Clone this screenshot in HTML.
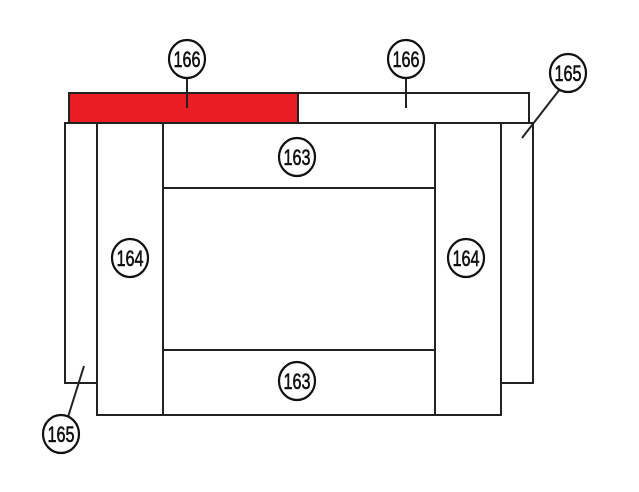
<!DOCTYPE html><html><head><style>body{margin:0;background:#fff}</style></head><body>
<svg width="639" height="487" xmlns="http://www.w3.org/2000/svg" font-family="Liberation Sans Narrow, Liberation Sans, sans-serif">
<g stroke="#222" stroke-width="2" fill="none">
<rect x="69" y="93" width="229" height="30" fill="#ec1c24"/>
<rect x="298" y="93" width="231" height="30" fill="#fff"/>
<rect x="65" y="123" width="32" height="260" fill="#fff"/>
<rect x="501" y="123" width="32" height="260" fill="#fff"/>
<rect x="97" y="123" width="66" height="292" fill="#fff"/>
<rect x="435" y="123" width="66" height="292" fill="#fff"/>
<rect x="163" y="123" width="272" height="292" fill="#fff"/>
<line x1="163" y1="188" x2="435" y2="188"/>
<line x1="163" y1="350" x2="435" y2="350"/>
<line x1="187" y1="78" x2="187" y2="108"/>
<line x1="406" y1="78" x2="406" y2="108"/>
<line x1="560" y1="89" x2="522" y2="138"/>
<line x1="68" y1="417" x2="84" y2="366"/>
</g>
<g stroke="#111" stroke-width="2.2" fill="#fff">
<ellipse cx="187" cy="59" rx="18" ry="19"/>
<ellipse cx="406" cy="59" rx="18" ry="19"/>
<ellipse cx="568" cy="73" rx="18" ry="19"/>
<ellipse cx="297" cy="157" rx="18" ry="19"/>
<ellipse cx="297" cy="381" rx="18" ry="19"/>
<ellipse cx="130" cy="258" rx="18" ry="19"/>
<ellipse cx="466" cy="258" rx="18" ry="19"/>
<ellipse cx="61" cy="434" rx="18" ry="19"/>
</g>
<g font-size="22" text-anchor="middle" fill="#111" stroke="#111" stroke-width="0.6">
<text x="187" y="67" textLength="27" lengthAdjust="spacingAndGlyphs">166</text>
<text x="406" y="67" textLength="27" lengthAdjust="spacingAndGlyphs">166</text>
<text x="568" y="81" textLength="27" lengthAdjust="spacingAndGlyphs">165</text>
<text x="297" y="165" textLength="27" lengthAdjust="spacingAndGlyphs">163</text>
<text x="297" y="389" textLength="27" lengthAdjust="spacingAndGlyphs">163</text>
<text x="130" y="266" textLength="27" lengthAdjust="spacingAndGlyphs">164</text>
<text x="466" y="266" textLength="27" lengthAdjust="spacingAndGlyphs">164</text>
<text x="61" y="442" textLength="27" lengthAdjust="spacingAndGlyphs">165</text>
</g>
</svg>
</body></html>
